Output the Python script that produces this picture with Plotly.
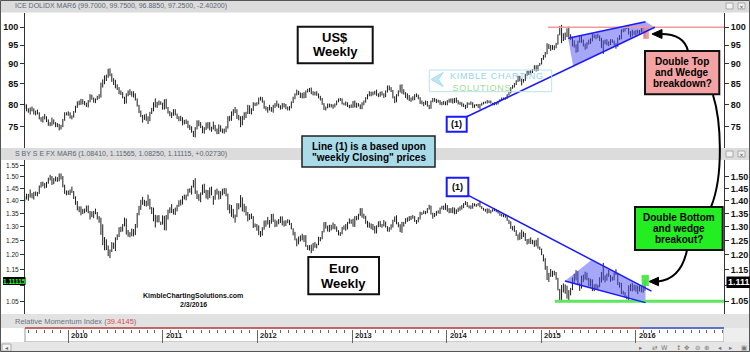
import plotly.graph_objects as go
import pandas as pd

W, H = 750, 352
def X(px): return px / W
def Y(py): return 1 - py / H

FONT = "Liberation Sans, Arial, sans-serif"

# ---------------- data (weekly bars) ----------------
LAST_WEEK = "2016-02-05"

usd_low = [
    78.9,78.4,78.1,77.7,78.4,77.7,77.5,77.7,76.6,76.1,75.9,76.6,76.0,75.2,75.1,75.2,75.5,74.9,74.9,74.2,74.4,74.9,76.3,77.5,
    77.4,76.8,76.6,77.0,78.1,79.2,79.8,79.9,80.0,79.8,79.4,79.3,80.5,81.1,80.4,80.3,81.0,81.3,81.6,84.0,84.8,85.6,86.4,86.8,85.4,84.6,83.8,83.4,82.4,82.2,81.4,80.1,80.2,81.9,82.2,81.8,81.6,80.9,79.5,78.0,77.1,75.9,76.5,76.3,75.6,76.2,77.8,78.4,79.3,79.2,79.8,79.9,78.8,
    78.8,79.0,77.9,77.3,76.9,77.4,77.5,76.7,76.2,76.2,75.3,75.5,75.6,74.7,74.3,73.7,72.8,72.7,74.4,75.1,74.7,73.6,73.5,74.3,74.6,74.2,73.9,74.4,74.0,73.4,73.4,73.9,73.6,73.5,73.8,74.6,76.2,76.3,77.4,78.0,76.7,76.4,74.9,75.3,76.5,76.9,77.8,77.8,77.7,78.5,79.6,79.7,
    80.0,80.9,80.4,79.0,78.6,78.1,78.6,78.3,78.1,79.2,79.5,79.2,78.8,78.9,79.3,78.9,78.6,78.6,79.1,80.3,81.2,82.1,82.2,81.5,81.4,81.4,81.5,82.8,82.9,82.4,82.1,82.1,82.0,81.4,80.9,79.9,78.7,78.6,79.1,79.3,79.3,79.0,79.3,79.8,80.5,80.8,80.0,79.8,79.7,79.4,79.1,79.2,
    79.2,79.3,79.2,79.5,78.9,78.9,79.8,80.4,81.2,81.9,81.9,82.1,82.3,82.0,81.7,81.8,82.1,81.5,81.7,82.8,83.3,82.9,81.4,80.3,80.5,81.9,82.8,82.5,82.3,81.5,81.1,80.8,80.6,80.9,81.0,81.7,81.2,80.1,80.0,79.6,79.9,79.5,78.9,79.0,80.5,80.6,80.3,80.4,79.9,79.8,79.9,79.8,
    79.8,80.4,80.4,80.2,80.3,80.4,80.0,79.9,79.5,79.4,78.9,79.2,79.9,79.9,79.2,79.2,79.6,79.2,78.9,79.7,80.0,80.2,80.2,80.3,80.2,79.8,79.8,79.9,80.0,80.5,80.8,81.1,81.1,81.3,82.1,82.6,83.7,84.0,84.6,85.4,85.5,84.5,85.2,85.6,86.9,87.1,87.3,87.6,88.2,88.0,88.1,89.4,
    89.8,91.0,91.6,92.5,93.9,93.4,93.7,93.6,94.1,95.1,97.7,95.5,96.1,96.4,97.2,97.2,96.4,94.6,94.3,92.9,93.1,95.6,95.6,94.6,93.7,94.0,95.1,95.3,96.0,96.9,96.6,96.9,96.1,94.2,92.6,95.2,94.9,94.7,95.0,95.6,94.9,94.0,94.5,96.4,96.6,98.6,98.8,99.5,97.9,97.1,97.4,97.8,
    97.6,98.1,97.9,98.5,98.6,96.885,
]
usd_high = [
    80.2,80.0,79.1,79.3,79.5,79.1,78.6,78.8,78.2,77.1,77.3,77.8,77.3,76.6,76.0,77.0,76.6,76.0,75.8,75.6,75.4,76.7,78.2,78.2,
    78.4,78.2,77.5,78.5,79.7,80.7,80.9,81.3,81.2,80.8,80.4,81.0,82.4,82.3,81.6,81.4,82.0,82.4,85.2,86.0,87.0,87.2,88.7,88.8,87.5,86.3,85.9,84.8,84.1,83.3,82.9,81.8,82.6,83.3,83.6,83.1,83.1,82.6,81.4,79.9,78.6,77.6,77.7,77.9,77.3,78.3,79.2,80.5,81.4,80.6,80.9,80.7,80.4,
    81.2,81.3,79.4,78.5,78.2,78.9,78.9,77.9,77.3,77.4,77.1,76.5,76.6,76.3,75.4,75.1,74.1,74.9,76.4,76.4,76.0,75.2,74.9,75.9,76.0,76.0,75.0,76.1,75.4,74.6,75.5,75.3,74.6,74.6,75.1,77.3,77.4,78.4,78.9,79.4,78.9,77.6,77.3,77.4,78.2,78.3,79.9,79.8,79.1,80.5,80.4,80.5,
    81.6,81.8,81.7,80.9,79.6,79.4,79.9,79.4,79.9,80.3,80.9,80.2,79.8,80.3,80.3,80.1,79.5,79.6,80.7,81.8,82.6,83.5,83.2,82.8,82.7,82.9,83.3,83.7,83.9,84.0,83.1,83.0,83.1,82.6,82.0,81.5,80.3,79.5,80.2,80.2,80.1,80.0,80.2,80.9,81.4,81.5,81.4,80.4,80.7,80.5,79.9,80.0,
    80.8,80.9,80.4,80.3,80.0,80.5,80.9,81.7,82.4,83.1,83.0,83.0,83.2,83.5,82.6,83.0,83.1,82.6,83.3,84.5,84.5,84.1,83.4,81.9,82.4,83.3,84.7,84.8,83.6,82.9,82.6,82.2,81.6,81.9,82.4,82.6,82.3,81.7,80.9,80.6,80.9,80.8,79.9,80.9,81.5,81.5,81.3,81.1,81.0,80.6,80.8,80.7,
    81.0,81.3,81.4,81.4,81.5,81.6,81.0,80.6,80.5,80.2,79.9,80.5,80.4,80.7,80.5,80.0,80.1,80.1,80.1,80.4,80.6,80.7,81.0,80.9,80.9,80.4,80.5,80.4,80.8,81.2,81.6,81.6,81.7,82.4,82.9,84.1,84.6,85.1,85.8,86.9,86.9,86.2,86.1,87.4,88.2,88.2,88.4,88.6,89.6,89.6,89.7,90.2,
    91.5,92.3,93.1,95.5,95.3,95.0,95.0,94.9,95.6,98.0,100.4,100.7,98.3,98.5,99.7,100.2,98.0,97.3,96.3,95.2,96.2,97.5,97.5,96.5,95.4,95.8,96.5,96.9,98.1,98.0,97.9,98.2,97.7,97.0,96.3,96.5,96.6,96.0,96.6,96.6,96.2,95.5,97.1,97.8,99.4,99.6,99.9,100.3,100.5,98.9,99.3,99.0,
    99.2,99.3,99.2,99.8,99.9,99.75,
]
eur_low = [
    1.397,1.405,1.400,1.413,1.410,1.405,1.420,1.418,1.428,1.454,1.459,1.450,1.453,1.470,1.484,1.465,1.468,1.480,1.478,1.480,1.488,1.455,1.428,1.422,
    1.424,1.423,1.432,1.407,1.384,1.362,1.355,1.343,1.348,1.351,1.356,1.351,1.327,1.336,1.332,1.347,1.327,1.315,1.270,1.233,1.215,1.216,1.195,1.188,1.209,1.220,1.212,1.251,1.262,1.280,1.282,1.301,1.271,1.263,1.261,1.265,1.264,1.269,1.296,1.343,1.364,1.384,1.379,1.377,1.380,1.366,1.348,1.320,1.297,1.316,1.316,1.306,1.308,
    1.287,1.286,1.327,1.351,1.352,1.346,1.344,1.358,1.376,1.381,1.385,1.405,1.402,1.418,1.433,1.425,1.454,1.428,1.407,1.400,1.394,1.424,1.431,1.409,1.405,1.411,1.422,1.384,1.404,1.425,1.405,1.407,1.422,1.427,1.418,1.363,1.350,1.337,1.332,1.315,1.336,1.366,1.374,1.358,1.355,1.342,1.320,1.325,1.329,1.295,1.298,1.285,
    1.269,1.262,1.267,1.289,1.300,1.308,1.296,1.311,1.318,1.298,1.300,1.309,1.314,1.305,1.300,1.303,1.313,1.306,1.290,1.268,1.250,1.229,1.236,1.246,1.250,1.244,1.227,1.216,1.214,1.205,1.213,1.224,1.222,1.233,1.247,1.254,1.279,1.293,1.282,1.280,1.286,1.291,1.290,1.281,1.268,1.266,1.272,1.289,1.285,1.290,1.311,1.311,
    1.300,1.299,1.324,1.326,1.341,1.334,1.330,1.311,1.297,1.296,1.291,1.287,1.275,1.275,1.298,1.299,1.296,1.301,1.297,1.282,1.281,1.289,1.297,1.318,1.309,1.298,1.280,1.277,1.300,1.311,1.318,1.321,1.325,1.330,1.318,1.310,1.316,1.327,1.344,1.348,1.347,1.351,1.365,1.346,1.330,1.336,1.341,1.350,1.348,1.366,1.364,1.364,
    1.357,1.351,1.352,1.351,1.347,1.348,1.356,1.361,1.365,1.371,1.383,1.375,1.370,1.367,1.369,1.378,1.376,1.380,1.374,1.367,1.361,1.357,1.350,1.352,1.350,1.357,1.359,1.355,1.350,1.341,1.338,1.336,1.334,1.322,1.310,1.292,1.286,1.281,1.266,1.250,1.252,1.255,1.262,1.248,1.235,1.238,1.237,1.236,1.227,1.229,1.221,1.216,
    1.198,1.177,1.149,1.116,1.110,1.126,1.126,1.131,1.117,1.083,1.047,1.051,1.077,1.073,1.058,1.053,1.068,1.084,1.107,1.115,1.100,1.082,1.089,1.109,1.117,1.115,1.096,1.095,1.081,1.081,1.088,1.088,1.093,1.108,1.115,1.108,1.114,1.126,1.110,1.114,1.115,1.132,1.100,1.092,1.072,1.070,1.062,1.056,1.052,1.081,1.080,1.083,
    1.079,1.072,1.080,1.077,1.076,1.0825,
]
eur_high = [
    1.418,1.429,1.428,1.446,1.431,1.436,1.438,1.436,1.463,1.478,1.479,1.473,1.478,1.496,1.508,1.503,1.494,1.501,1.498,1.514,1.514,1.503,1.466,1.442,
    1.442,1.446,1.458,1.440,1.418,1.399,1.378,1.378,1.368,1.369,1.381,1.382,1.360,1.358,1.360,1.369,1.356,1.340,1.334,1.309,1.262,1.254,1.232,1.218,1.244,1.242,1.261,1.272,1.298,1.300,1.310,1.334,1.331,1.288,1.280,1.293,1.291,1.310,1.352,1.380,1.404,1.416,1.404,1.400,1.425,1.408,1.375,1.373,1.345,1.343,1.344,1.319,1.343,
    1.341,1.344,1.365,1.374,1.387,1.368,1.373,1.384,1.402,1.405,1.420,1.425,1.425,1.449,1.451,1.462,1.486,1.494,1.442,1.427,1.434,1.467,1.470,1.445,1.444,1.455,1.458,1.420,1.445,1.450,1.441,1.439,1.449,1.452,1.451,1.429,1.386,1.383,1.368,1.346,1.391,1.390,1.423,1.414,1.388,1.379,1.356,1.348,1.350,1.340,1.312,1.310,
    1.305,1.284,1.298,1.323,1.324,1.337,1.325,1.348,1.349,1.327,1.323,1.329,1.339,1.339,1.323,1.324,1.328,1.326,1.314,1.294,1.281,1.257,1.264,1.268,1.274,1.269,1.269,1.233,1.233,1.235,1.241,1.244,1.238,1.263,1.262,1.284,1.317,1.318,1.304,1.307,1.307,1.316,1.310,1.301,1.287,1.280,1.299,1.305,1.310,1.318,1.331,1.327,
    1.330,1.340,1.341,1.349,1.371,1.371,1.349,1.341,1.322,1.316,1.312,1.310,1.303,1.305,1.320,1.322,1.310,1.325,1.319,1.302,1.298,1.309,1.326,1.339,1.343,1.317,1.309,1.318,1.318,1.332,1.335,1.340,1.341,1.344,1.340,1.325,1.336,1.357,1.355,1.362,1.360,1.371,1.384,1.381,1.353,1.352,1.360,1.362,1.373,1.380,1.381,1.390,
    1.383,1.371,1.371,1.375,1.373,1.366,1.373,1.378,1.383,1.391,1.399,1.395,1.382,1.382,1.391,1.390,1.387,1.391,1.400,1.379,1.372,1.368,1.370,1.369,1.363,1.367,1.371,1.366,1.363,1.354,1.348,1.347,1.345,1.342,1.326,1.320,1.302,1.304,1.287,1.272,1.279,1.289,1.282,1.277,1.255,1.256,1.261,1.252,1.250,1.252,1.259,1.228,
    1.221,1.201,1.188,1.162,1.139,1.152,1.146,1.146,1.142,1.123,1.088,1.100,1.105,1.102,1.098,1.084,1.091,1.124,1.136,1.148,1.145,1.106,1.130,1.133,1.143,1.140,1.123,1.120,1.118,1.102,1.104,1.101,1.125,1.142,1.172,1.131,1.137,1.149,1.132,1.127,1.140,1.151,1.139,1.109,1.107,1.082,1.078,1.067,1.099,1.103,1.107,1.101,
    1.100,1.098,1.098,1.096,1.095,1.11565,
]

usd_title = "ICE DOLIDX MAR6 (99.7000, 99.7500, 96.8850, 97.2500, -2.40200)"
eur_title = "S BY S E FX MAR6 (1.08410, 1.11565, 1.08250, 1.11115, +0.02730)"
rmi_value = "39.4145"
eur_last_long = "1.11115"
eur_last_short = "1.111"

usd_ticks = [75, 80, 85, 90, 95, 100]
usd_tick_text = ["75", "80", "85", "90", "95", "100"]
# the 1.10 level is hidden under the last-price flags on both sides
eur_ticks_left = [1.05, 1.10, 1.15, 1.20, 1.25, 1.30, 1.35, 1.40, 1.45, 1.50, 1.55]
eur_text_left = ["1.05", "", "1.15", "1.20", "1.25", "1.30", "1.35", "1.40", "1.45", "1.50", "1.55"]
eur_ticks_right = [1.05, 1.10, 1.15, 1.20, 1.25, 1.30, 1.35, 1.40, 1.45, 1.50]
eur_text_right = ["1.05", "", "1.15", "1.20", "1.25", "1.30", "1.35", "1.40", "1.45", "1.50"]
year_labels = ["2010", "2011", "2012", "2013", "2014", "2015", "2016"]

# hand-drawn study lines on the chart (date, value)
usd_line1_x = ["2014-03-19", "2016-03-14"];   usd_line1_y = [77.2, 100.0]
usd_wtop_x = ["2015-04-14", "2016-02-07"];    usd_wtop_y = [96.9, 101.6]
usd_fill_x = ["2015-04-14", "2016-02-07", "2016-03-14", "2015-05-04"]
usd_fill_y = [96.9, 101.6, 100.0, 89.4]
usd_res_x = ["2015-01-26", "2016-12-06"];     usd_res_y = [100.0, 100.0]
usd_mark_x = ["2016-01-29", "2016-02-20"];    usd_mark_y = [96.7, 100.0]

eur_line1_x = ["2014-03-25", "2016-03-01"];   eur_line1_y = [1.422, 1.081]
eur_wlow_x = ["2015-04-02", "2016-02-07"];    eur_wlow_y = [1.113, 1.046]
eur_fill_x = ["2015-04-02", "2015-07-14", "2016-02-07", "2016-02-07"]
eur_fill_y = [1.113, 1.182, 1.091, 1.046]
eur_sup_x = ["2015-02-22", "2016-12-06"];     eur_sup_y = [1.05, 1.05]
eur_mark_x = ["2016-01-23", "2016-02-20"];    eur_mark_y = [1.097, 1.132]

X_RANGE = ["2009-07-18", "2016-12-06"]
USD_RANGE = [1.84829, 2.01797]
EUR_RANGE = [0.0054, 0.19685]

# ---------------- build ----------------
def bar_xy(lo, hi):
    n = min(len(lo), len(hi))
    dates = pd.date_range(end=LAST_WEEK, periods=n, freq="W-FRI")
    xs, ys = [], []
    for d, l, h in zip(dates, lo[:n], hi[:n]):
        xs += [d, d, None]
        ys += [l, h, None]
    return xs, ys

fig = go.Figure()
BAR = dict(color="#1c1c1c", width=1)
BLUE = "#1a1aff"

ux, uy = bar_xy(usd_low, usd_high)
fig.add_trace(go.Scatter(x=ux, y=uy, mode="lines", line=BAR, xaxis="x", yaxis="y", hoverinfo="skip"))
fig.add_trace(go.Scatter(x=usd_fill_x + usd_fill_x[:1], y=usd_fill_y + usd_fill_y[:1], mode="lines",
                         fill="toself", fillcolor="rgba(80,80,245,0.5)", line=dict(width=0),
                         xaxis="x", yaxis="y", hoverinfo="skip"))
fig.add_trace(go.Scatter(x=usd_res_x, y=usd_res_y, mode="lines", line=dict(color="#f29a9a", width=1.6),
                         xaxis="x", yaxis="y", hoverinfo="skip"))
fig.add_trace(go.Scatter(x=[usd_mark_x[0], usd_mark_x[1], usd_mark_x[1], usd_mark_x[0], usd_mark_x[0]],
                         y=[usd_mark_y[0], usd_mark_y[0], usd_mark_y[1], usd_mark_y[1], usd_mark_y[0]],
                         mode="lines", fill="toself", fillcolor="rgba(240,140,140,0.85)", line=dict(width=0),
                         xaxis="x", yaxis="y", hoverinfo="skip"))
fig.add_trace(go.Scatter(x=usd_line1_x, y=usd_line1_y, mode="lines", line=dict(color=BLUE, width=1.5),
                         xaxis="x", yaxis="y", hoverinfo="skip"))
fig.add_trace(go.Scatter(x=usd_wtop_x, y=usd_wtop_y, mode="lines", line=dict(color=BLUE, width=1.5),
                         xaxis="x", yaxis="y", hoverinfo="skip"))
fig.add_trace(go.Scatter(x=[usd_line1_x[0]], y=[90], mode="markers", marker=dict(opacity=0),
                         xaxis="x", yaxis="y3", hoverinfo="skip"))

ex, ey = bar_xy(eur_low, eur_high)
fig.add_trace(go.Scatter(x=ex, y=ey, mode="lines", line=BAR, xaxis="x2", yaxis="y2", hoverinfo="skip"))
fig.add_trace(go.Scatter(x=eur_fill_x + eur_fill_x[:1], y=eur_fill_y + eur_fill_y[:1], mode="lines",
                         fill="toself", fillcolor="rgba(80,80,245,0.5)", line=dict(width=0),
                         xaxis="x2", yaxis="y2", hoverinfo="skip"))
fig.add_trace(go.Scatter(x=eur_sup_x, y=eur_sup_y, mode="lines", line=dict(color="#5ee65e", width=3),
                         xaxis="x2", yaxis="y2", hoverinfo="skip"))
fig.add_trace(go.Scatter(x=[eur_mark_x[0], eur_mark_x[1], eur_mark_x[1], eur_mark_x[0], eur_mark_x[0]],
                         y=[eur_mark_y[0], eur_mark_y[0], eur_mark_y[1], eur_mark_y[1], eur_mark_y[0]],
                         mode="lines", fill="toself", fillcolor="rgba(60,230,60,0.9)", line=dict(width=0),
                         xaxis="x2", yaxis="y2", hoverinfo="skip"))
fig.add_trace(go.Scatter(x=eur_line1_x, y=eur_line1_y, mode="lines", line=dict(color=BLUE, width=1.5),
                         xaxis="x2", yaxis="y2", hoverinfo="skip"))
fig.add_trace(go.Scatter(x=eur_wlow_x, y=eur_wlow_y, mode="lines", line=dict(color=BLUE, width=1.5),
                         xaxis="x2", yaxis="y2", hoverinfo="skip"))
fig.add_trace(go.Scatter(x=[eur_line1_x[0]], y=[1.2], mode="markers", marker=dict(opacity=0),
                         xaxis="x2", yaxis="y4", hoverinfo="skip"))

# ---------------- decorations ----------------
shapes, anns = [], []

def rect(x0, y0, x1, y1, fill=None, line=None, width=1, layer="above"):
    shapes.append(dict(type="rect", xref="paper", yref="paper", x0=X(x0), x1=X(x1), y0=Y(y1), y1=Y(y0),
                       fillcolor=fill or "rgba(0,0,0,0)",
                       line=dict(color=line or "rgba(0,0,0,0)", width=width if line else 0), layer=layer))

def seg(x0, y0, x1, y1, color, width, layer="above"):
    shapes.append(dict(type="line", xref="paper", yref="paper", x0=X(x0), x1=X(x1), y0=Y(y0), y1=Y(y1),
                       line=dict(color=color, width=width), layer=layer))

def P(px, py):
    return f"{X(px):.5f},{Y(py):.5f}"

def path(d, color="#000", width=2, fill=None):
    shapes.append(dict(type="path", xref="paper", yref="paper", path=d,
                       line=dict(color=color, width=width), fillcolor=fill or "rgba(0,0,0,0)", layer="above"))

def text(px, py, s, size, color="#000", bold=True, anchor="center", family=FONT):
    anns.append(dict(xref="paper", yref="paper", x=X(px), y=Y(py), text=(f"<b>{s}</b>" if bold else s),
                     showarrow=False, xanchor=anchor, yanchor="middle",
                     font=dict(size=size, color=color, family=family)))

def spaced(s):
    return "\u200a".join(s)

# frame strips
rect(0, 0, 750, 12.5, fill="#dcdcdc", layer="below")
rect(0, 148, 750, 160, fill="#dcdcdc", layer="below")
rect(0, 314, 750, 328, fill="#e2e2e2", layer="below")
rect(25, 328, 724, 342, fill="#ffffff", line="#9a9a9a", width=1, layer="below")
rect(724, 328, 750, 342, fill="#eeeeee", layer="below")
rect(0, 342, 750, 352, fill="#e6e6e6", layer="below")
rect(2, 344, 11, 351, fill="#f4f4f4", line="#aaaaaa", width=1, layer="below")
seg(25, 328, 640, 328, "#c04848", 1.5)
seg(640, 328, 724, 328, "#3a56c8", 1.5)
rect(0.5, 0.5, 749.5, 351.5, line="#555555", width=1)

text(13, 6.5, usd_title, 7, color="#5a6675", bold=False, anchor="left")
text(13, 154, eur_title, 7, color="#5a6675", bold=False, anchor="left")
text(13, 321, f"Relative Momentum Index (<span style='color:#e04848'>{rmi_value}</span>)", 7.5,
     color="#6a7480", bold=False, anchor="left")
for yy in (6, 154):
    rect(726, yy - 3, 733, yy + 3, fill="#f2f2f2", line="#999999", width=0.8)
    rect(738, yy - 3, 745, yy + 3, fill="#f2f2f2", line="#999999", width=0.8)
    text(741.5, yy, "×", 6, color="#555", bold=False, family="DejaVu Sans")
text(6.5, 347.5, "◂", 6, color="#666", bold=False, family="DejaVu Sans")
for px, ch in [(641, "▸"), (655, "⇄"), (664, "W"), (678, "↕"), (687, "✥"), (697, "⊖"), (706, "⊕"),
               (720, "◂"), (731, "▸"), (744, "▣")]:
    text(px, 347.5, ch, 6.5, color="#777", bold=False, family="DejaVu Sans")

# year labels on the time axis
for yl in year_labels:
    anns.append(dict(xref="x2", yref="paper", x=f"{yl}-01-01", y=Y(335.5), text=f"<b>{yl}</b>",
                     showarrow=False, xanchor="left", yanchor="middle", xshift=1,
                     font=dict(size=7.5, color="#222", family=FONT)))

# value flags
rect(3, 277, 25.5, 285, fill="#000000")
text(14.2, 281, eur_last_long, 6.5, color="#22ff22")
rect(726.5, 276.5, 750, 288, fill="#000000")
text(738.5, 282.3, eur_last_short, 9, color="#ffffff")

# callout boxes
rect(297.7, 26.7, 372.7, 63.3, fill="#ffffff", line="#111111", width=2)
text(335.2, 37, "US$", 13)
text(335.2, 52, "Weekly", 13)

rect(308.3, 257, 379, 294.3, fill="#ffffff", line="#111111", width=2)
text(343.6, 268, "Euro", 13)
text(343.6, 283, "Weekly", 13)

rect(302, 136, 435, 167, fill="#a9dbe9", line="#222222", width=1.5)
text(368.5, 146.5, "Line (1) is a based upon", 10)
text(368.5, 157.5, "\"weekly Closing\" prices", 10)

rect(446.7, 116.7, 466.7, 131.7, fill="#ffffff", line="#1a1aff", width=2)
text(456.7, 124.4, "(1)", 9)
rect(446.7, 177.7, 468.3, 196.3, fill="#ffffff", line="#1a1aff", width=2)
text(457.5, 187.2, "(1)", 9)

rect(645, 51, 719.3, 94.3, fill="#f3a3a3", line="#111111", width=2)
text(682.2, 61.3, "Double Top", 10)
text(682.2, 72, "and Wedge", 10)
text(682.2, 83, "breakdown?", 10)

rect(635, 207, 722.7, 250, fill="#22ee22", line="#111111", width=2)
text(678.8, 217, "Double Bottom", 10)
text(678.8, 228.3, "and wedge", 10)
text(678.8, 239.5, "breakout?", 10)

text(193.3, 295.5, "KimbleChartingSolutions.com", 7, color="#111")
text(193.3, 304, "2/3/2016", 7, color="#111")

# watermark (one two-line text so the lines sit tight like the logo)
rect(429.3, 70, 551.7, 91.7, line="#b8e2f2", width=1)
path(f"M {P(443,72.5)} L {P(431,79.5)} L {P(443,86.5)} L {P(438.5,79.5)} Z", color="#a8dcef", width=1, fill="#bfe6f4")
wm = (f"<span style='color:#98d3ec'>{spaced('KIMBLE CHARTING')}</span><br>"
      f"<span style='color:#9edd92'>{spaced('SOLUTIONS')}{'&nbsp;' * 12}</span>")
text(496.5, 81.5, wm, 9, color="#98d3ec", bold=False)

# arrows
path(f"M {P(688,51)} Q {P(684,34)} {P(661,34)}", width=2)
path(f"M {P(652,34)} L {P(662,29.5)} L {P(662,38.5)} Z", width=1, fill="#000")
path(f"M {P(713,95)} C {P(721,120)} {P(724,175)} {P(711,207)}", width=2)
path(f"M {P(687,250)} Q {P(681,279)} {P(658,281.5)}", width=2)
path(f"M {P(649,281.5)} L {P(658.5,277.3)} L {P(658.5,285.7)} Z", width=1, fill="#000")

# ---------------- layout ----------------
xdom = [X(25), X(724)]
tick_bold = dict(size=9, color="#111", family=FONT, weight="bold")
common_y = dict(type="log", showgrid=False, zeroline=False, showline=True, linecolor="#333", linewidth=1,
                ticks="outside", ticklen=4, tickcolor="#333", tickmode="array")

fig.update_layout(
    width=W, height=H, margin=dict(l=0, r=0, t=0, b=0),
    paper_bgcolor="white", plot_bgcolor="white", showlegend=False,
    font=dict(family=FONT),
    xaxis=dict(domain=xdom, range=X_RANGE, type="date", anchor="y", showticklabels=False, ticks="",
               showgrid=False, zeroline=False, showline=False, rangeslider=dict(visible=False)),
    xaxis2=dict(domain=xdom, range=X_RANGE, type="date", anchor="free", position=Y(328.5), side="bottom",
                showticklabels=False, ticks="outside", ticklen=13.5, tickcolor="#666", tickwidth=1,
                tickmode="linear", dtick="M12", tick0="2010-01-01",
                minor=dict(dtick="M1", tick0="2010-01-01", ticks="outside", ticklen=3, tickcolor="#666"),
                showgrid=False, zeroline=False, showline=False, rangeslider=dict(visible=False)),
    yaxis=dict(domain=[Y(148), Y(13)], range=USD_RANGE, anchor="x", side="left",
               tickvals=usd_ticks, ticktext=usd_tick_text, tickfont=tick_bold, **common_y),
    yaxis3=dict(range=USD_RANGE, anchor="x", side="right", overlaying="y",
                tickvals=usd_ticks, ticktext=usd_tick_text, tickfont=tick_bold, **common_y),
    yaxis2=dict(domain=[Y(314), Y(160)], range=EUR_RANGE, anchor="x2", side="left",
                tickvals=eur_ticks_left, ticktext=eur_text_left,
                tickfont=dict(size=6.5, color="#222", family=FONT), **common_y),
    yaxis4=dict(range=EUR_RANGE, anchor="x2", side="right", overlaying="y2",
                tickvals=eur_ticks_right, ticktext=eur_text_right, tickfont=tick_bold, **common_y),
    shapes=shapes, annotations=anns,
)

fig.write_html("out.html")
